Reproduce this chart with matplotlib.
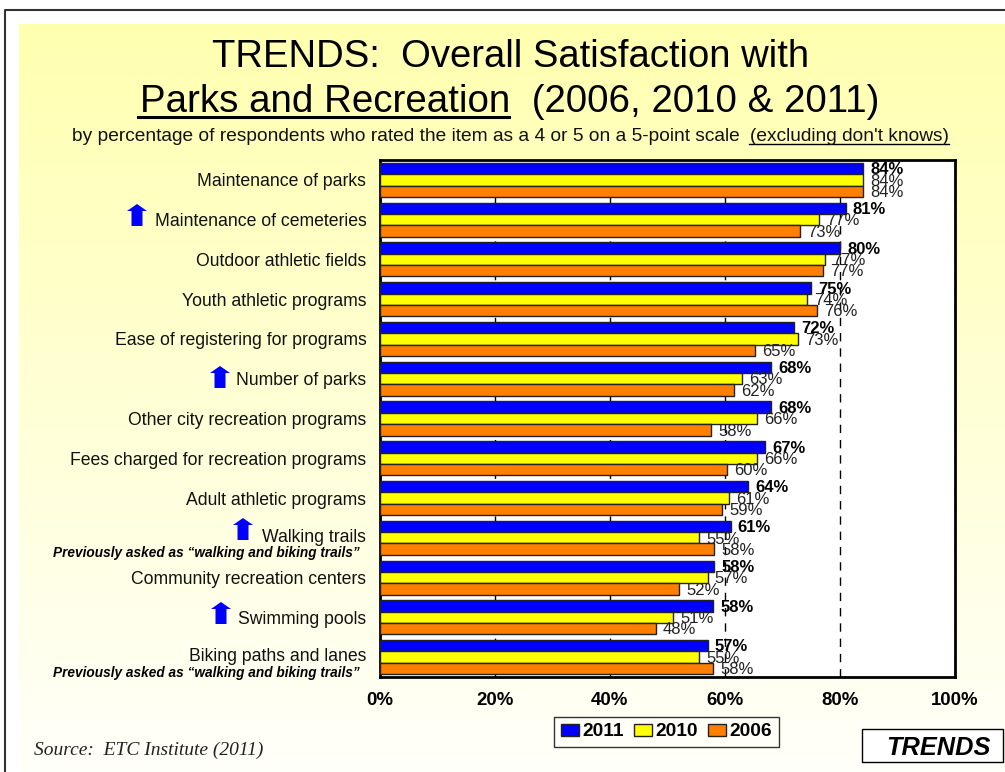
import matplotlib.pyplot as plt
import matplotlib.transforms as mtrans
import numpy as np
from matplotlib.patches import Polygon, Rectangle

plt.rcParams["font.family"] = ["Liberation Sans", "DejaVu Sans"]

categories = ["Maintenance of parks", "Maintenance of cemeteries", "Outdoor athletic fields",
              "Youth athletic programs", "Ease of registering for programs", "Number of parks",
              "Other city recreation programs", "Fees charged for recreation programs",
              "Adult athletic programs", "Walking trails", "Community recreation centers",
              "Swimming pools", "Biking paths and lanes"]
v2011 = [84, 81, 80, 75, 72, 68, 68, 67, 64, 61, 58.2, 58, 57]
v2010 = [84, 76.4, 77.4, 74.3, 72.7, 63, 65.6, 65.6, 60.8, 55.5, 57, 51, 55.5]
v2006 = [84, 73.1, 77, 76, 65.3, 61.6, 57.6, 60.4, 59.5, 58.2, 52, 48, 58]
lab2011 = [84, 81, 80, 75, 72, 68, 68, 67, 64, 61, 58, 58, 57]
lab2010 = [84, 77, 77, 74, 73, 63, 66, 66, 61, 55, 57, 51, 55]
lab2006 = [84, 73, 77, 76, 65, 62, 58, 60, 59, 58, 52, 48, 58]

W, H = 1005, 772
fig = plt.figure(figsize=(W / 100, H / 100), dpi=100, facecolor="white")

# page background and everything placed in pixels
page = fig.add_axes([0, 0, 1, 1], zorder=0)
page.set_xlim(0, W)
page.set_ylim(H, 0)
page.axis("off")
grad = np.linspace(0, 1, 256).reshape(-1, 1)
top = np.array([255, 255, 176]) / 255
bottom = np.array([255, 255, 250]) / 255
img = (top + (bottom - top) * grad[..., None]).reshape(256, 1, 3)
page.imshow(img, extent=[19, W, H, 24], aspect="auto", zorder=0)
page.set_xlim(0, W)
page.set_ylim(H, 0)
page.plot([4.5, 4.5, W], [H, 9.5, 9.5], color="#333333", lw=1.5, zorder=1)

page.text(511, 67, "TRENDS:  Overall Satisfaction with", ha="center", va="baseline", fontsize=27.5)
page.text(140, 112, "Parks and Recreation  (2006, 2010 & 2011)", ha="left", va="baseline", fontsize=27.7)
page.plot([138, 509], [117, 117], color="black", lw=2.2)
page.text(72, 141, "by percentage of respondents who rated the item as a 4 or 5 on a 5-point scale",
          ha="left", va="baseline", fontsize=13.8, color="#111111")
page.text(949, 141, "(excluding don't knows)", ha="right", va="baseline", fontsize=13.8, color="#111111")
page.plot([749, 949], [144, 144], color="black", lw=1)

note = "Previously asked as \u201cwalking and biking trails\u201d"
page.text(360, 552.5, note, ha="right", va="center", fontsize=9.8, fontweight="bold", fontstyle="italic")
page.text(360, 673.5, note, ha="right", va="center", fontsize=9.8, fontweight="bold", fontstyle="italic")

for ax_x, ay in [(137, 204), (220, 366), (243, 518), (221, 602)]:
    pts = [(ax_x, ay), (ax_x + 10, ay + 7), (ax_x + 5.5, ay + 7), (ax_x + 5.5, ay + 22),
           (ax_x - 5.5, ay + 22), (ax_x - 5.5, ay + 7), (ax_x - 10, ay + 7)]
    page.add_patch(Polygon(pts, closed=True, color="#0000FF", lw=0))

page.text(34, 750, "Source:  ETC Institute (2011)", ha="left", va="center", fontsize=14,
          fontstyle="italic", family="Liberation Serif", color="#222222")
page.add_patch(Rectangle((862, 729), 141, 33, facecolor="white", edgecolor="black", lw=1))
page.text(938, 748, "TRENDS", ha="center", va="center", fontsize=18.3, fontweight="bold", fontstyle="italic")

# bars
ax = fig.add_axes([379.5 / W, 1 - 677 / H, 575.5 / W, 517 / H], zorder=2)
y = np.arange(len(categories))
h = 0.285
edge = "#222222"
b1 = ax.barh(y - h, v2011, h, color="#0000FF", edgecolor=edge, lw=1, zorder=3, label="2011")
b2 = ax.barh(y, v2010, h, color="#FFFF00", edgecolor=edge, lw=1, zorder=3, label="2010")
b3 = ax.barh(y + h, v2006, h, color="#FF7F00", edgecolor=edge, lw=1, zorder=3, label="2006")
ax.set_xlim(0, 100)
ax.set_ylim(len(categories) - 0.5, -0.5)
ax.set_xticks(range(0, 101, 20))
ax.set_xticklabels([f"{t}%" for t in range(0, 101, 20)], fontsize=13.4, fontweight="bold")
ax.set_yticks(y)
ax.set_yticklabels(categories, fontsize=12.7, color="#111111")
ax.tick_params(axis="y", length=0, pad=9.5)
ax.tick_params(axis="x", length=0, pad=11)
ax.grid(axis="x", color="black", ls=(0, (6, 5)), lw=1, zorder=1)
for s in ax.spines.values():
    s.set_linewidth(2)

# the two labels with a note under them sit a little higher
labels = ax.get_yticklabels()
for i, dy in [(9, 2), (12, 3)]:
    labels[i].set_transform(labels[i].get_transform()
                            + mtrans.ScaledTranslation(0, dy / 100, fig.dpi_scale_trans))

off = 0.03
for i in y:
    ax.text(v2011[i] + 1.25, i - h + off, f"{lab2011[i]}%", va="center", ha="left", fontsize=12,
            fontweight="bold", zorder=5)
    ax.text(v2010[i] + 1.25, i + off, f"{lab2010[i]}%", va="center", ha="left", fontsize=12,
            color="#222222", zorder=5)
    ax.text(v2006[i] + 1.25, i + h + off, f"{lab2006[i]}%", va="center", ha="left", fontsize=12,
            color="#222222", zorder=5)

leg = fig.legend(handles=[b1, b2, b3], loc="center", bbox_to_anchor=(666.5 / W, 1 - 732 / H), ncol=3,
                 fancybox=False, framealpha=1, edgecolor="#333333", facecolor="#FFFFF8",
                 prop={"weight": "bold", "size": 13.8}, handlelength=0.95, handleheight=0.6,
                 handletextpad=0.15, columnspacing=0.55, borderpad=0.35, borderaxespad=0)
leg.get_frame().set_linewidth(1)

fig.savefig("out.png", dpi=100)
